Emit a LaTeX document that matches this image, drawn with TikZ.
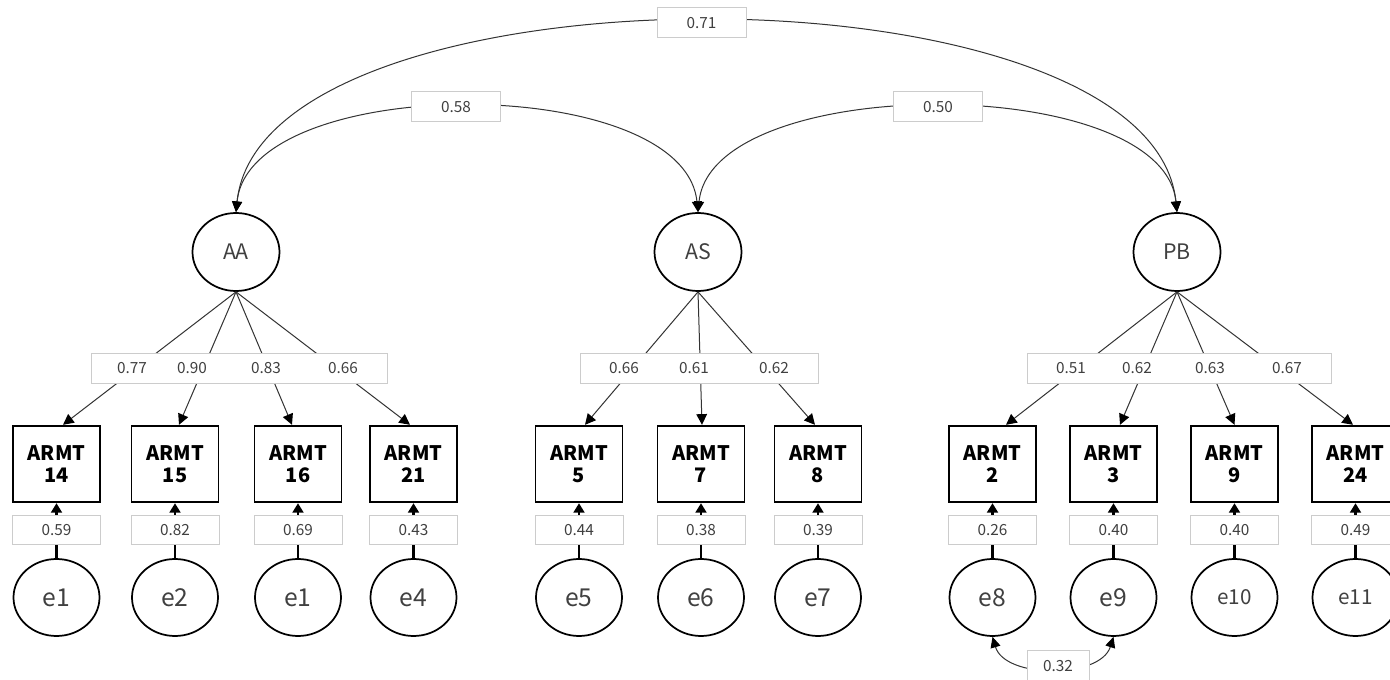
\documentclass[tikz,border=0pt]{standalone}
\usepackage{fontspec}
\setmainfont{Noto Sans CJK JP}
\usetikzlibrary{arrows.meta,shapes.geometric,calc}
\definecolor{txt}{HTML}{404040}
\definecolor{lbl}{HTML}{CCCCCC}
\definecolor{ln}{HTML}{333333}
\begin{document}
\begin{tikzpicture}[x=0.75pt,y=-0.75pt,
 latent/.style={ellipse,draw=black,line width=1.3pt,minimum width=65.25pt,minimum height=58.5pt,inner sep=0pt,font=\fontsize{16}{16}\selectfont,text=txt},
 indic/.style={rectangle,draw=black,line width=1.3pt,minimum width=65.25pt,minimum height=57.5pt,inner sep=0pt,align=center,font=\fontsize{15}{16.5}\selectfont\bfseries},
 err/.style={ellipse,draw=black,line width=1.3pt,minimum width=64.5pt,minimum height=57.75pt,inner sep=0pt,font=\fontsize{18.5}{18.5}\selectfont,text=txt},
 errs/.style={err,font=\fontsize{15.5}{15.5}\selectfont},
 lblbox/.style={rectangle,draw=lbl,fill=white,line width=0.75pt,inner sep=0pt,font=\fontsize{11.5}{11.5}\selectfont,text=txt},
 num/.style={font=\fontsize{11.5}{11.5}\selectfont,text=txt,inner sep=0pt},
 load/.style={draw=ln,line width=0.75pt,-{Triangle[length=8pt,width=8pt,color=black]}},
 eline/.style={draw=black,line width=1.9pt,-{Triangle[length=7pt,width=8pt]}},
 cor/.style={draw=ln,line width=0.75pt,{Triangle[length=8pt,width=7.5pt,color=black]}-{Triangle[length=8pt,width=7.5pt,color=black]}},
]
\clip (0,0) rectangle (1390,680);
\fill[white] (0,0) rectangle (1390,680);

% latent variables
\node[latent] (AA) at (236,252) {AA};
\node[latent] (AS) at (698,252) {AS};
\node[latent] (PB) at (1177,252) {PB};

% indicators
\foreach \n/\x/\t in {b14/56.5/14, b15/175/15, b16/298/16, b21/413.5/21, b5/579/5, b7/701/7, b8/818/8, b2/992.5/2, b3/1113.5/3, b9/1234.5/9, b24/1355.5/24}{
  \node[indic] (\n) at (\x,464) {ARMT\\\t};
}

% errors
\foreach \n/\x/\t in {e1/56.5/e1, e2/175/e2, e3/298/e1, e4/413.5/e4, e5/579/e5, e6/701/e6, e7/818/e7, e8/992.5/e8, e9/1113.5/e9}{
  \node[err] (\n) at (\x,597.5) {\t};
}
\node[errs] (e10) at (1234.5,597.5) {e10};
\node[errs] (e11) at (1355.5,597.5) {e11};

% loading paths
\draw[load] (AA.south) -- ($(b14.north)+(6.5,0)$);
\draw[load] (AA.south) -- ($(b15.north)+(4,0)$);
\draw[load] (AA.south) -- ($(b16.north)+(-6,0)$);
\draw[load] (AA.south) -- ($(b21.north)+(-3.5,0)$);
\draw[load] (AS.south) -- ($(b5.north)+(6,0)$);
\draw[load] (AS.south) -- ($(b7.north)+(1,0)$);
\draw[load] (AS.south) -- ($(b8.north)+(-3,0)$);
\draw[load] (PB.south) -- ($(b2.north)+(13.5,0)$);
\draw[load] (PB.south) -- ($(b3.north)+(6.5,0)$);
\draw[load] (PB.south) -- (b9.north);
\draw[load] (PB.south) -- ($(b24.north)+(-2.5,0)$);

% loading label boxes
\node[lblbox,minimum width=222pt,minimum height=22.5pt] (LA) at (239,369) {};
\node[num] (l1) at (132,368) {0.77};
\node[num] (l2) at (192,368) {0.90};
\node[num] (l3) at (266,368) {0.83};
\node[num] (l4) at (343,368) {0.66};
\node[lblbox,minimum width=178.5pt,minimum height=22.5pt] (LS) at (699,369) {};
\node[num] (l5) at (624,368) {0.66};
\node[num] (l6) at (694,368) {0.61};
\node[num] (l7) at (774,368) {0.62};
\node[lblbox,minimum width=228pt,minimum height=22.5pt] (LP) at (1179,369) {};
\node[num] (l8) at (1071,368) {0.51};
\node[num] (l9) at (1137,368) {0.62};
\node[num] (l10) at (1210,368) {0.63};
\node[num] (l11) at (1287,368) {0.67};

% error paths
\foreach \e/\b/\v in {e1/b14/0.59, e2/b15/0.82, e3/b16/0.69, e4/b21/0.43, e5/b5/0.44, e6/b7/0.38, e7/b8/0.39, e8/b2/0.26, e9/b3/0.40, e10/b9/0.40, e11/b24/0.49}{
  \draw[eline] (\e.north) -- (\b.south);
  \node[lblbox,minimum width=66pt,minimum height=21.75pt] (w\e) at ($(\b.south)!0.5!(\e.north)+(0,-1)$) {\v};
}

% correlations
\draw[cor] (AA.north) .. controls (262,-42) and (1151,-42) .. (PB.north);
\draw[cor] (AA.north) .. controls (250,72) and (684,72) .. (AS.north);
\draw[cor] (AS.north) .. controls (712,72) and (1163,72) .. (PB.north);
\draw[cor] (e8.south) .. controls (1005,679) and (1100,679) .. (e9.south);

\node[lblbox,minimum width=66.75pt,minimum height=22.5pt] (c1) at (701.5,23) {0.71};
\node[lblbox,minimum width=66.75pt,minimum height=22.5pt] (c2) at (456,107) {0.58};
\node[lblbox,minimum width=66.75pt,minimum height=22.5pt] (c3) at (938,107) {0.50};
\node[lblbox,minimum width=46.5pt,minimum height=22.5pt] (c4) at (1058,666) {0.32};
\end{tikzpicture}
\end{document}
